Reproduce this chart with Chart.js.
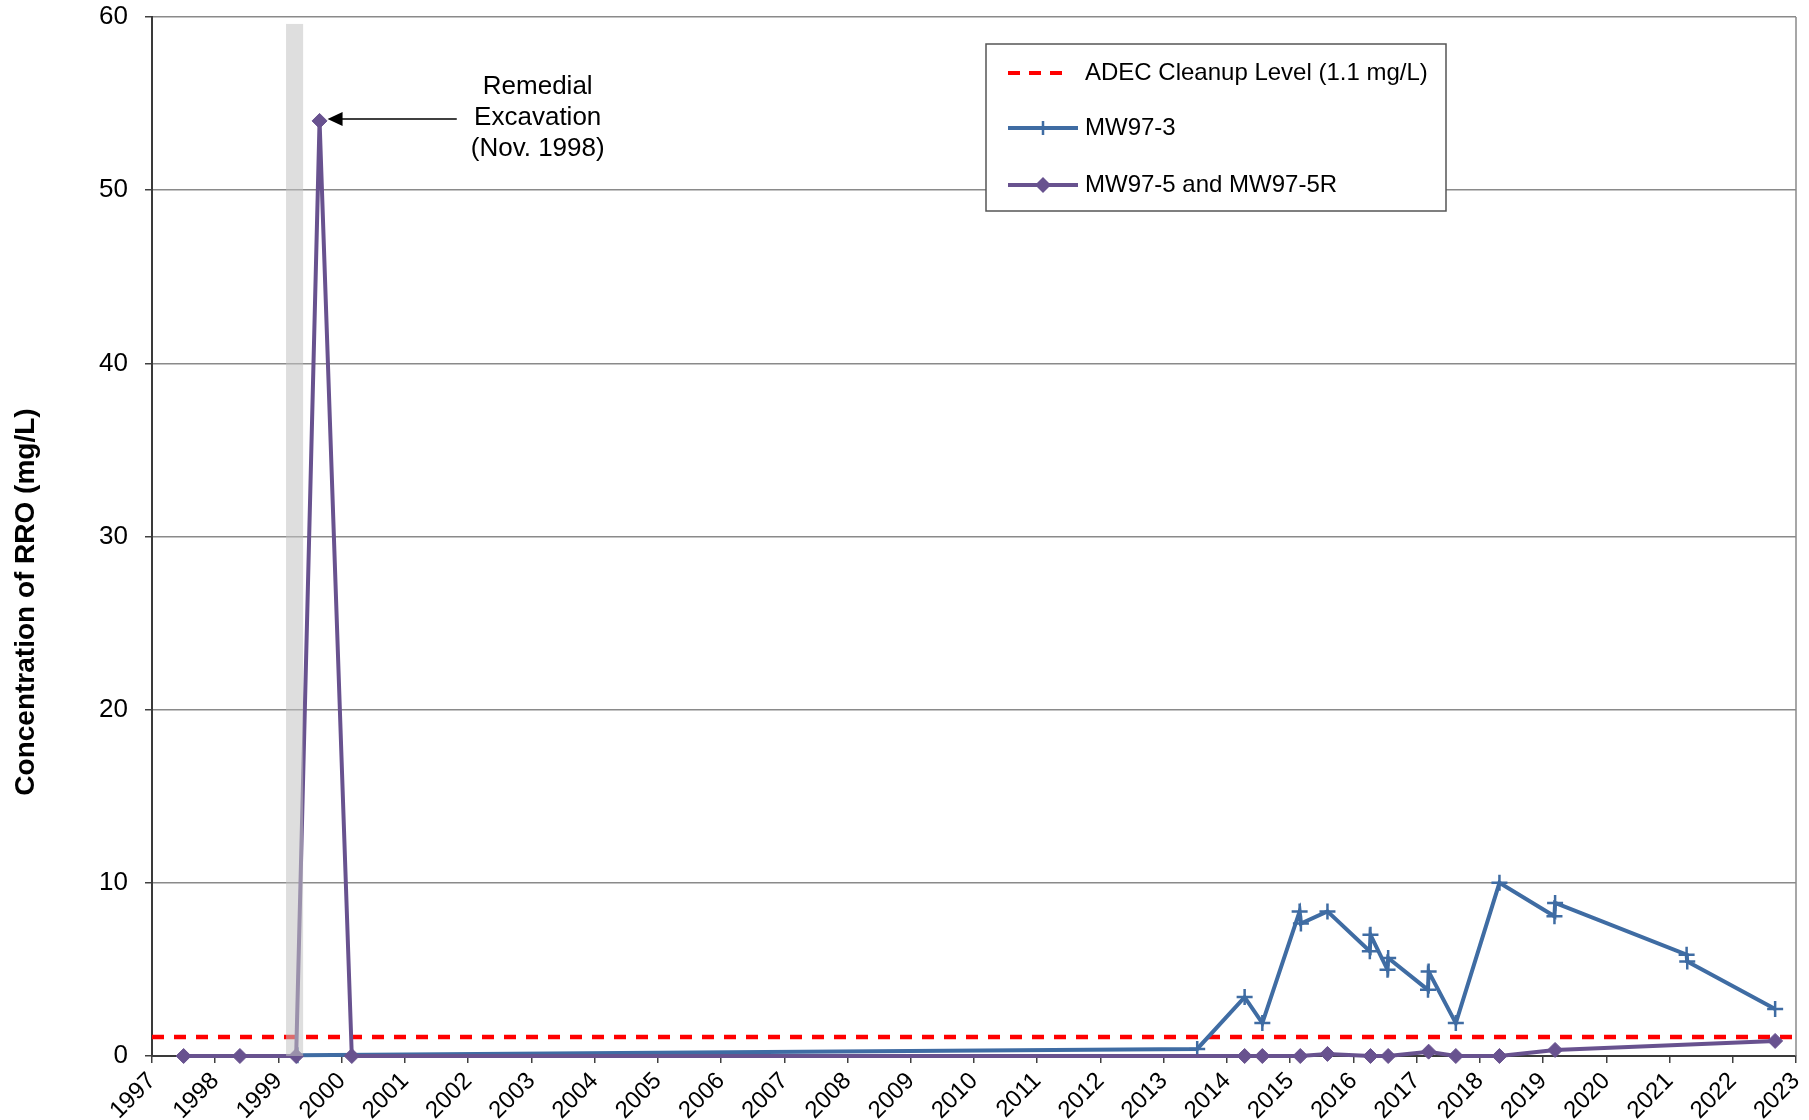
<!DOCTYPE html>
<html>
<head>
<meta charset="utf-8">
<title>Concentration of RRO</title>
<script src="https://cdn.jsdelivr.net/npm/chart.js@4.4.1/dist/chart.umd.min.js"></script>
<style>
  html, body { margin: 0; padding: 0; background: #fff; }
  #wrap { width: 1809px; height: 1120px; position: relative; }
</style>
</head>
<body>
<div id="wrap"><canvas id="myChart"></canvas></div>
<script>
// axis ticks
var xTickYears = [1997, 1998, 1999, 2000, 2001, 2002, 2003, 2004, 2005, 2006, 2007, 2008, 2009,
  2010, 2011, 2012, 2013, 2014, 2015, 2016, 2017, 2018, 2019, 2020, 2021, 2022, 2023];
var yTickValues = [0, 10, 20, 30, 40, 50, 60];

// cleanup level (mg/L)
var cleanupLevel = 1.1;

// MW97-3, sample dates as decimal years
var mw973Dates = [1999.30, 2013.53, 2014.28, 2014.56, 2015.15, 2015.17, 2015.59, 2016.26, 2016.27,
  2016.54, 2016.55, 2017.18, 2017.19, 2017.62, 2018.31, 2019.18, 2019.19, 2021.27, 2021.28, 2022.67];
var mw973Values = [0.05, 0.41, 3.4, 1.9, 8.35, 7.65, 8.35, 6.05, 7.0,
  4.98, 5.66, 3.82, 4.88, 1.9, 10.0, 8.07, 8.84, 5.85, 5.46, 2.72];

// MW97-5 and MW97-5R
var mw975Dates = [1997.50, 1998.39, 1999.28, 1999.65, 2000.16, 2014.28, 2014.56, 2015.16,
  2015.59, 2016.27, 2016.55, 2017.19, 2017.62, 2018.31, 2019.19, 2022.67];
var mw975Values = [0, 0, 0, 54, 0, 0, 0, 0,
  0.12, 0, 0, 0.25, 0, 0, 0.35, 0.87];

var legendLabels = ["ADEC Cleanup Level (1.1 mg/L)", "MW97-3", "MW97-5 and MW97-5R"];

// shaded excavation period and its note
var bandYears = [1999.12, 1999.39];
var bandTop = 59.6;
var noteLines = ["Remedial", "Excavation", "(Nov. 1998)"];
var noteAt = [2003.1, 54.2];
var arrowFromYear = 2001.82;

var FONT = "'Liberation Sans', Arial, sans-serif";
var BLUE = "#3F6CA3";
var PURPLE = "#68528F";

function toPoints(xs, ys) {
  return xs.map(function (x, i) { return { x: x, y: ys[i] }; });
}

function drawCross(ctx, x, y, r, color) {
  ctx.save();
  ctx.strokeStyle = color;
  ctx.lineWidth = 2.5;
  ctx.beginPath();
  ctx.moveTo(x - r, y); ctx.lineTo(x + r, y);
  ctx.moveTo(x, y - r); ctx.lineTo(x, y + r);
  ctx.stroke();
  ctx.restore();
}

function drawDiamond(ctx, x, y, r, color) {
  ctx.save();
  ctx.fillStyle = color;
  ctx.beginPath();
  ctx.moveTo(x, y - r); ctx.lineTo(x + r, y); ctx.lineTo(x, y + r); ctx.lineTo(x - r, y);
  ctx.closePath();
  ctx.fill();
  ctx.restore();
}

var extras = {
  id: "extras",
  afterDatasetsDraw: function (chart) {
    var ctx = chart.ctx, xs = chart.scales.x, ys = chart.scales.y;
    var x0 = xs.getPixelForValue(bandYears[0]);
    var x1 = xs.getPixelForValue(bandYears[1]);
    var top = ys.getPixelForValue(bandTop);
    var bottom = ys.getPixelForValue(0);
    ctx.save();
    ctx.fillStyle = "rgba(194,194,194,0.55)";
    ctx.fillRect(x0, top, x1 - x0, bottom - top);
    ctx.restore();
  },
  afterDraw: function (chart) {
    var ctx = chart.ctx, xs = chart.scales.x, ys = chart.scales.y, a = chart.chartArea;

    // right border of plot
    ctx.save();
    ctx.strokeStyle = "#8a8a8a";
    ctx.lineWidth = 1.5;
    ctx.beginPath();
    ctx.moveTo(a.right, a.top);
    ctx.lineTo(a.right, a.bottom);
    ctx.stroke();
    ctx.restore();

    // y title
    ctx.save();
    ctx.translate(a.left - 126, a.top + 585);
    ctx.rotate(-Math.PI / 2);
    ctx.font = "bold 28px " + FONT;
    ctx.fillStyle = "#000";
    ctx.textAlign = "center";
    ctx.textBaseline = "middle";
    ctx.fillText("Concentration of RRO (mg/L)", 0, 0);
    ctx.restore();

    // note and arrow to the peak
    var peak = mw975Values.indexOf(Math.max.apply(null, mw975Values));
    var px = xs.getPixelForValue(mw975Dates[peak]) + 8;
    var py = ys.getPixelForValue(mw975Values[peak]) - 2;
    var tail = xs.getPixelForValue(arrowFromYear);
    ctx.save();
    ctx.strokeStyle = "#000";
    ctx.fillStyle = "#000";
    ctx.lineWidth = 1.5;
    ctx.beginPath();
    ctx.moveTo(tail, py);
    ctx.lineTo(px + 14, py);
    ctx.stroke();
    ctx.beginPath();
    ctx.moveTo(px, py);
    ctx.lineTo(px + 15, py - 7);
    ctx.lineTo(px + 15, py + 7);
    ctx.closePath();
    ctx.fill();
    ctx.font = "26px " + FONT;
    ctx.textAlign = "center";
    ctx.textBaseline = "middle";
    var nx = xs.getPixelForValue(noteAt[0]);
    var ny = ys.getPixelForValue(noteAt[1]);
    noteLines.forEach(function (t, i) {
      ctx.fillText(t, nx, ny + (i - 1) * 31);
    });
    ctx.restore();

    // legend box
    var lx = a.left + 834, ly = a.top + 27, lw = 460, lh = 167;
    ctx.save();
    ctx.fillStyle = "#fff";
    ctx.fillRect(lx, ly, lw, lh);
    ctx.strokeStyle = "#555";
    ctx.lineWidth = 1.5;
    ctx.strokeRect(lx, ly, lw, lh);
    var rows = [ly + 29, ly + 84, ly + 141];

    ctx.strokeStyle = "#FF0000";
    ctx.lineWidth = 4;
    ctx.setLineDash([12, 9]);
    ctx.beginPath();
    ctx.moveTo(lx + 22, rows[0]);
    ctx.lineTo(lx + 82, rows[0]);
    ctx.stroke();
    ctx.setLineDash([]);

    ctx.lineWidth = 4;
    ctx.strokeStyle = BLUE;
    ctx.beginPath();
    ctx.moveTo(lx + 22, rows[1]);
    ctx.lineTo(lx + 92, rows[1]);
    ctx.stroke();
    drawCross(ctx, lx + 57, rows[1], 7, BLUE);

    ctx.strokeStyle = PURPLE;
    ctx.beginPath();
    ctx.moveTo(lx + 22, rows[2]);
    ctx.lineTo(lx + 92, rows[2]);
    ctx.stroke();
    drawDiamond(ctx, lx + 57, rows[2], 8, PURPLE);

    ctx.font = "24px " + FONT;
    ctx.fillStyle = "#000";
    ctx.textAlign = "left";
    ctx.textBaseline = "middle";
    legendLabels.forEach(function (t, i) {
      ctx.fillText(t, lx + 99, rows[i]);
    });
    ctx.restore();
  }
};

var data = {
  datasets: [
    {
      label: legendLabels[0],
      data: [{ x: xTickYears[0], y: cleanupLevel }, { x: xTickYears[xTickYears.length - 1], y: cleanupLevel }],
      borderColor: "#FF0000",
      borderWidth: 4.5,
      borderDash: [12, 10],
      pointRadius: 0,
      order: 3,
    },
    {
      label: legendLabels[1],
      data: toPoints(mw973Dates, mw973Values),
      borderColor: BLUE,
      backgroundColor: BLUE,
      borderWidth: 4,
      pointStyle: "cross",
      pointRadius: 8,
      pointBorderWidth: 2.5,
      pointBorderColor: BLUE,
      clip: false,
      order: 2,
    },
    {
      label: legendLabels[2],
      data: toPoints(mw975Dates, mw975Values),
      borderColor: PURPLE,
      backgroundColor: PURPLE,
      borderWidth: 4,
      pointStyle: "rectRot",
      pointRadius: 7.5,
      pointBorderWidth: 1,
      pointBorderColor: PURPLE,
      clip: false,
      order: 1,
    },
  ],
};

var config = {
  type: "line",
  data: data,
  options: {
    responsive: true,
    maintainAspectRatio: false,
    animation: false,
    layout: { padding: { left: 0, top: 17, right: 13, bottom: 0 } },
    elements: { line: { tension: 0 } },
    plugins: {
      legend: { display: false },
      tooltip: { enabled: false },
    },
    scales: {
      x: {
        type: "linear",
        min: xTickYears[0],
        max: xTickYears[xTickYears.length - 1],
        afterBuildTicks: function (scale) {
          scale.ticks = xTickYears.map(function (v) { return { value: v }; });
        },
        afterFit: function (scale) {
          scale.height = 64;
          scale.paddingLeft = 0;
          scale.paddingRight = 0;
        },
        grid: { drawOnChartArea: false, tickLength: 7, tickColor: "#404040", lineWidth: 1.5 },
        border: { color: "#3a3a3a", width: 2 },
        ticks: {
          autoSkip: false,
          maxRotation: 45,
          minRotation: 45,
          padding: 4,
          color: "#000",
          font: { family: FONT, size: 24 },
          callback: function (v) { return String(v); },
        },
      },
      y: {
        min: 0,
        max: 60,
        afterBuildTicks: function (scale) {
          scale.ticks = yTickValues.map(function (v) { return { value: v }; });
        },
        afterFit: function (scale) {
          scale.width = 152;
          scale.paddingTop = 0;
          scale.paddingBottom = 0;
        },
        grid: { color: "#8a8a8a", lineWidth: 1.5, tickLength: 7, tickColor: "#404040" },
        border: { color: "#3a3a3a", width: 2 },
        ticks: {
          padding: 17,
          color: "#000",
          font: { family: FONT, size: 26 },
        },
      },
    },
  },
  plugins: [extras],
};

var myChart = document.getElementById("myChart").getContext("2d");
var chart1 = new Chart(myChart, config);
</script>
</body>
</html>
